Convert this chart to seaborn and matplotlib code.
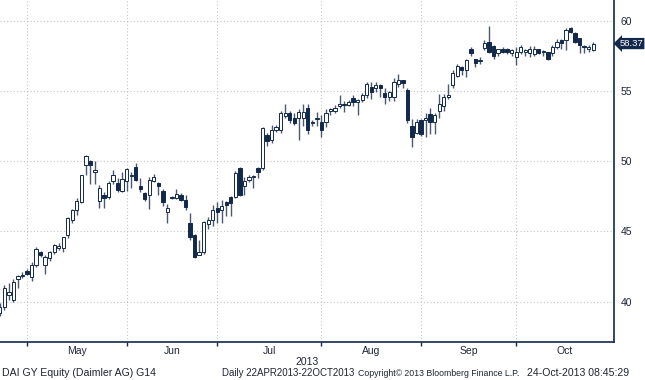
import numpy as np
import pandas as pd
import matplotlib
matplotlib.use("Agg")
import matplotlib.pyplot as plt
import seaborn as sns

# daily OHLC, DAI GY, 22 Apr 2013 - 24 Oct 2013
opens = [38.9, 39.2, 39.6, 40.5, 40.1, 41.6, 41.8, 42.2, 41.75, 42.6,
         43.5, 42.6, 43.1, 43.55, 43.85, 43.8, 44.75, 45.8, 46.5, 47.1,
         49.7, 50.0, 49.2, 47.2, 47.6, 47.45, 48.6, 48.45, 47.9, 48.6,
         48.95, 49.6, 48.2, 47.7, 47.6, 48.6, 48.45, 47.9, 46.4, 47.35,
         47.4, 47.6, 47.25, 45.6, 44.75, 43.3, 43.5, 45.55, 45.8, 46.65,
         46.5, 47.1, 47.45, 47.45, 49.5, 48.2, 48.65, 48.85, 49.5, 49.5,
         51.85, 51.5, 52.25, 52.25, 53.2, 53.45, 53.1, 53.05, 53.1, 53.8,
         52.7, 53.0, 52.8, 52.8, 53.6, 53.6, 53.9, 54.05, 54.0, 54.5,
         54.2, 54.35, 54.7, 55.3, 55.2, 55.45, 54.85, 54.6, 54.6, 55.5,
         55.75, 55.1, 52.5, 52.0, 52.9, 52.9, 53.35, 52.8, 53.6, 53.9,
         54.55, 55.4, 56.05, 56.7, 56.5, 58.0, 57.25, 57.15, 58.05, 58.5,
         58.2, 57.7, 57.95, 57.95, 57.7, 57.4, 57.75, 57.8, 57.7, 57.6,
         57.95, 57.75, 57.75, 57.7, 58.1, 58.6, 58.6, 59.45, 59.1, 58.75,
         58.2, 58.0, 57.9]
highs = [39.4, 39.9, 41.2, 41.3, 41.6, 41.9, 42.1, 42.3, 42.8, 43.9,
         43.6, 43.3, 43.6, 44.1, 44.2, 44.6, 46.0, 46.6, 47.4, 49.0,
         50.45, 50.1, 50.0, 48.3, 47.8, 48.6, 49.4, 48.8, 49.2, 49.5,
         49.2, 49.85, 48.8, 47.8, 48.9, 49.1, 48.5, 48.05, 46.95, 47.5,
         48.0, 47.7, 47.6, 46.3, 44.8, 44.4, 45.75, 46.0, 46.9, 47.1,
         47.25, 47.2, 47.5, 49.3, 49.6, 48.9, 49.0, 49.0, 49.6, 52.4,
         52.0, 52.6, 52.6, 53.6, 54.05, 53.6, 53.4, 53.7, 54.1, 54.1,
         52.9, 53.5, 53.3, 53.7, 53.8, 54.0, 54.7, 54.3, 54.35, 54.7,
         54.4, 54.85, 55.6, 55.6, 55.6, 55.5, 55.2, 55.0, 55.9, 56.2,
         55.8, 55.2, 53.0, 53.0, 53.0, 53.4, 53.8, 53.4, 54.75, 54.8,
         55.5, 56.5, 56.9, 56.75, 57.3, 58.1, 57.3, 57.4, 58.6, 59.6,
         58.3, 58.0, 58.1, 58.05, 58.0, 58.1, 58.3, 58.0, 58.2, 58.2,
         58.0, 57.9, 57.8, 58.3, 58.7, 58.7, 59.5, 59.55, 59.2, 58.8,
         58.3, 58.3, 58.5]
lows = [38.7, 39.0, 39.4, 40.1, 40.0, 41.0, 41.7, 41.9, 41.5, 42.5,
        43.2, 42.0, 42.9, 43.4, 43.7, 43.5, 44.5, 45.6, 46.2, 47.0,
        49.0, 48.4, 48.4, 46.7, 46.7, 47.3, 48.4, 47.8, 47.8, 47.9,
        48.1, 48.6, 47.8, 47.2, 46.6, 48.5, 47.6, 46.8, 45.6, 47.3,
        47.3, 47.2, 46.5, 44.4, 43.1, 43.3, 43.4, 45.2, 45.4, 45.6,
        45.6, 46.1, 46.1, 47.4, 47.5, 47.6, 48.5, 48.1, 48.8, 49.4,
        51.1, 51.3, 52.1, 52.0, 53.1, 52.7, 52.6, 51.5, 52.5, 51.9,
        52.5, 52.5, 51.7, 52.4, 53.3, 53.4, 53.8, 53.5, 53.9, 53.9,
        53.3, 54.2, 54.5, 54.4, 54.9, 54.6, 54.1, 54.3, 54.3, 55.3,
        55.2, 52.7, 51.0, 51.9, 51.8, 51.7, 51.9, 51.9, 53.1, 53.6,
        54.4, 55.2, 56.0, 56.1, 56.0, 57.5, 56.7, 56.9, 57.9, 57.7,
        57.3, 57.5, 57.7, 57.6, 57.5, 56.85, 57.6, 57.5, 57.4, 57.5,
        57.6, 57.5, 57.2, 57.5, 58.0, 58.0, 57.9, 59.1, 58.4, 57.7,
        57.7, 57.8, 57.85]
closes = [39.2, 39.6, 41.0, 40.7, 41.4, 41.8, 41.9, 42.0, 42.6, 43.75,
          43.3, 43.2, 43.5, 44.0, 43.9, 44.6, 45.95, 46.5, 47.2, 49.0,
          50.4, 49.7, 49.4, 48.1, 47.4, 48.45, 49.0, 47.95, 48.7, 49.45,
          49.05, 48.65, 48.0, 47.3, 48.65, 48.85, 48.25, 47.1, 46.7, 47.4,
          47.65, 47.25, 46.75, 44.6, 43.2, 43.5, 45.65, 45.8, 46.5, 46.4,
          46.8, 46.9, 47.0, 49.15, 47.6, 48.6, 48.85, 48.9, 49.25, 52.35,
          51.4, 52.2, 52.45, 53.45, 53.4, 52.9, 52.7, 53.5, 53.5, 52.2,
          52.75, 53.1, 52.2, 53.4, 53.7, 53.8, 54.05, 54.0, 54.2, 54.2,
          54.35, 54.7, 55.5, 54.95, 55.45, 55.2, 54.6, 54.95, 55.6, 55.8,
          55.55, 52.9, 51.7, 52.8, 51.9, 53.1, 52.8, 53.3, 54.1, 54.55,
          54.7, 56.3, 56.8, 56.5, 57.2, 57.7, 57.0, 57.2, 58.4, 57.75,
          57.5, 57.95, 57.8, 57.8, 57.9, 57.75, 58.1, 57.85, 58.0, 58.0,
          57.7, 57.8, 57.3, 58.1, 58.5, 58.4, 59.35, 59.2, 58.5, 58.3,
          58.1, 58.15, 58.37]

y_ticks = [40, 45, 50, 55, 60]
year_label = "2013"
footer = ["DAI GY Equity (Daimler AG) G14",
          "Daily 22APR2013-22OCT2013",
          "Copyright\u00a9 2013 Bloomberg Finance L.P.",
          "24-Oct-2013 08:45:29"]

navy = "#13294b"
wick_col = "#4a5870"
grid_col = "#c4c4c4"
text_col = "#1e2535"

sns.set_theme(style="white")
plt.rcParams["font.family"] = ["Liberation Sans", "DejaVu Sans"]

# trading days on Xetra (1 May closed)
dates = pd.bdate_range("2013-04-22", "2013-10-24")
dates = dates[dates != pd.Timestamp("2013-05-01")]
df = pd.DataFrame({"date": dates, "open": opens, "high": highs,
                   "low": lows, "close": closes})
df["pos"] = np.arange(len(df))
df["up"] = df["close"] >= df["open"]

x_lo, x_hi = 1.04, 136.6

fig = plt.figure(figsize=(6.45, 3.8), dpi=100)
ax = fig.add_axes([0.0, 0.1, 614 / 645, 0.9])

# wicks
ax.vlines(df["pos"], df["low"], df["high"], color=wick_col, lw=1.0, zorder=2)

# bodies
body_lo = df[["open", "close"]].min(axis=1)
body_h = (df["close"] - df["open"]).abs().clip(lower=0.08)
face = np.where(df["up"], "white", navy)
ax.bar(df["pos"], body_h, bottom=body_lo, width=0.72, color=face,
       edgecolor=navy, linewidth=0.7, zorder=3)

ax.set_xlim(x_lo, x_hi)
ax.set_ylim(37.13, 61.47)

# month boundaries and centred month names
starts = df.groupby(df["date"].dt.to_period("M"))["pos"].min()
starts = starts[starts > x_lo]
bounds = list(starts.values) + [x_hi]
centres = [(a + b) / 2 for a, b in zip(bounds[:-1], bounds[1:])]
names = [p.strftime("%b") for p in starts.index]

ax.set_xticks(starts.values)
ax.set_xticklabels([])
ax.set_xticks(centres, minor=True)
ax.set_xticklabels(names, minor=True)
ax.tick_params(axis="x", which="major", direction="out", length=3,
               width=1, color=navy, bottom=True)
ax.tick_params(axis="x", which="minor", length=0, labelsize=7.5,
               labelcolor=text_col, pad=3)

ax.yaxis.tick_right()
ax.set_yticks(y_ticks)
ax.set_yticks([37.5, 42.5, 47.5, 52.5, 57.5], minor=True)
ax.tick_params(axis="y", which="major", direction="out", length=4, width=1,
               color=navy, labelsize=7.5, labelcolor=text_col, pad=1,
               right=True, left=False)
ax.tick_params(axis="y", which="minor", direction="out", length=3, width=1,
               color=navy, right=True, left=False)

ax.grid(True, which="major", color=grid_col, linestyle=(0, (1, 2)), lw=0.8)
ax.set_axisbelow(True)

sns.despine(ax=ax, left=True, top=True, right=False, bottom=False)
for side in ("right", "bottom"):
    ax.spines[side].set_color(navy)
    ax.spines[side].set_linewidth(1.2)

# last price tag
ax.text(1.009, closes[-1], f"{closes[-1]:.2f}", transform=ax.get_yaxis_transform(),
        ha="left", va="center", fontsize=6.8, color="white", zorder=5,
        clip_on=False,
        bbox=dict(boxstyle="larrow,pad=0.12", fc=navy, ec="none"))

fig.text(307 / 645, 1 - 362 / 380, year_label, ha="center", va="center",
         fontsize=7.5, color=text_col)
for txt, px, fs in zip(footer, [2, 222, 358, 527], [7.6, 7.0, 6.3, 7.6]):
    fig.text(px / 645, 1 - 373 / 380, txt, ha="left", va="center",
             fontsize=fs, color=text_col)

fig.savefig("out.png", dpi=100)
